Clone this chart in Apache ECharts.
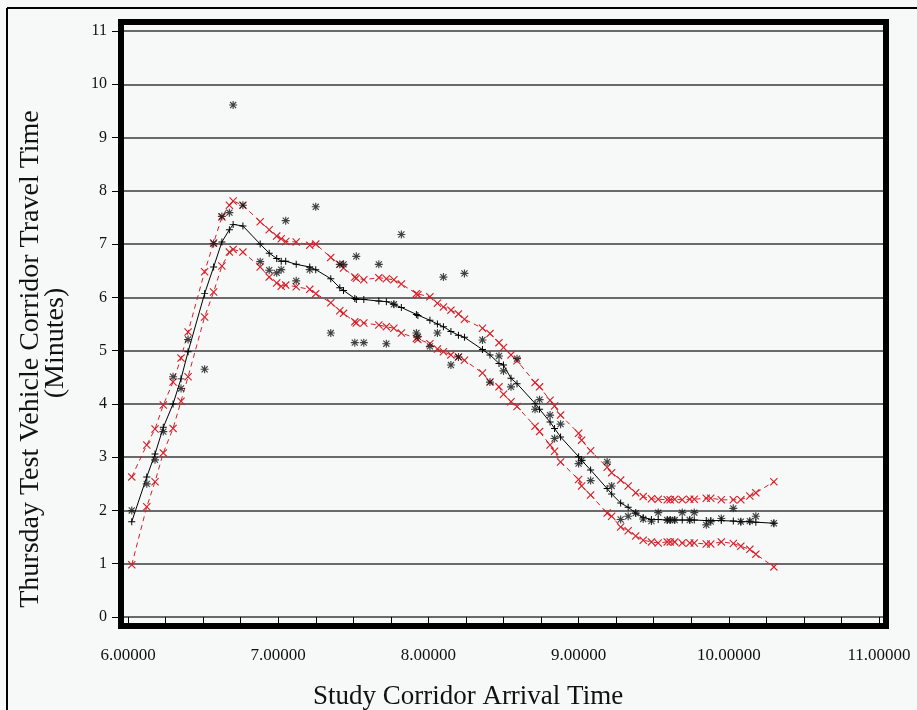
<!DOCTYPE html>
<html>
<head>
<meta charset="utf-8">
<title>Thursday Test Vehicle Corridor Travel Time</title>
<script src="https://cdn.jsdelivr.net/npm/echarts@6/dist/echarts.min.js"></script>
<style>
  html, body { margin: 0; padding: 0; background: #f6f9f7; }
  #chart { width: 917px; height: 710px; }
</style>
</head>
<body>
<div id="chart"></div>
<script>
// arrival time (hours) of each test vehicle
const times = [6.025, 6.125, 6.18, 6.235, 6.30, 6.353, 6.40, 6.51, 6.57, 6.625,
  6.675, 6.70, 6.765, 6.88, 6.94, 6.99, 7.02, 7.05, 7.12, 7.21,
  7.25, 7.35, 7.41, 7.435, 7.51, 7.52, 7.57, 7.67, 7.72, 7.77,
  7.82, 7.92, 7.93, 8.01, 8.06, 8.10, 8.15, 8.20, 8.24, 8.36,
  8.41, 8.47, 8.50, 8.55, 8.59, 8.71, 8.74, 8.81, 8.84, 8.88,
  9.00, 9.02, 9.08, 9.19, 9.22, 9.28, 9.33, 9.38, 9.43, 9.485,
  9.53, 9.59, 9.61, 9.64, 9.69, 9.74, 9.77, 9.85, 9.88, 9.95,
  10.03, 10.08, 10.14, 10.18, 10.30]

// observed travel time (*)
const observed = [2.0, 2.5, 2.95, 3.48, 4.51, 4.29, 5.21, 4.65, 7.01, 7.52,
  7.59, 9.61, 7.73, 6.67, 6.51, 6.46, 6.52, 7.44, 6.31, 6.52,
  7.70, 5.33, 6.62, 6.62, 5.15, 6.77, 5.15, 6.62, 5.13, 5.87,
  7.18, 5.33, 5.26, 5.08, 5.33, 6.38, 4.73, 4.88, 6.45, 5.20,
  4.41, 4.90, 4.62, 4.32, 4.85, 3.90, 4.08, 3.79, 3.35, 3.62,
  2.88, 2.94, 2.56, 2.91, 2.46, 1.83, 1.89, 1.95, 1.84, 1.80,
  1.96, 1.82, 1.82, 1.82, 1.96, 1.82, 1.96, 1.73, 1.79, 1.85,
  2.04, 1.79, 1.80, 1.89, 1.76]

// smoothed curve (+)
const fitted = [1.79, 2.63, 3.06, 3.56, 4.0, 4.47, 4.98, 6.07, 6.57, 7.04,
  7.27, 7.37, 7.34, 7.0, 6.83, 6.73, 6.68, 6.68, 6.62, 6.57,
  6.52, 6.35, 6.18, 6.13, 5.98, 5.96, 5.96, 5.93, 5.92, 5.87,
  5.81, 5.68, 5.66, 5.57, 5.50, 5.45, 5.36, 5.29, 5.25, 5.02,
  4.92, 4.76, 4.73, 4.48, 4.38, 4.01, 3.90, 3.66, 3.54, 3.38,
  3.01, 2.94, 2.76, 2.41, 2.31, 2.14, 2.06, 1.95, 1.87, 1.83,
  1.83, 1.82, 1.82, 1.82, 1.82, 1.82, 1.82, 1.81, 1.81, 1.81,
  1.80, 1.79, 1.79, 1.78, 1.76]

// confidence band (x)
const upper = [2.63, 3.23, 3.53, 3.98, 4.41, 4.86, 5.35, 6.48, 7.02, 7.51,
  7.73, 7.81, 7.73, 7.42, 7.27, 7.15, 7.10, 7.05, 7.04, 6.98,
  7.0, 6.75, 6.62, 6.55, 6.38, 6.36, 6.33, 6.37, 6.35, 6.33,
  6.25, 6.07, 6.05, 6.01, 5.89, 5.82, 5.76, 5.69, 5.59, 5.42,
  5.32, 5.15, 5.06, 4.92, 4.81, 4.40, 4.32, 4.07, 3.96, 3.79,
  3.45, 3.32, 3.12, 2.81, 2.71, 2.57, 2.46, 2.33, 2.26, 2.22,
  2.21, 2.20, 2.20, 2.21, 2.20, 2.21, 2.21, 2.23, 2.23, 2.20,
  2.20, 2.20, 2.27, 2.33, 2.54]

const lower = [0.98, 2.07, 2.54, 3.08, 3.54, 4.05, 4.51, 5.63, 6.10, 6.59,
  6.85, 6.90, 6.85, 6.57, 6.38, 6.27, 6.21, 6.23, 6.20, 6.15,
  6.07, 5.90, 5.75, 5.70, 5.54, 5.52, 5.52, 5.48, 5.45, 5.42,
  5.33, 5.23, 5.21, 5.13, 5.03, 4.98, 4.92, 4.88, 4.82, 4.58,
  4.41, 4.32, 4.18, 4.04, 3.95, 3.58, 3.48, 3.23, 3.11, 2.91,
  2.58, 2.46, 2.29, 1.95, 1.89, 1.69, 1.62, 1.52, 1.44, 1.41,
  1.39, 1.41, 1.41, 1.41, 1.39, 1.39, 1.39, 1.37, 1.37, 1.41,
  1.38, 1.33, 1.27, 1.18, 0.94]

// axis ticks / labels
const xTicks = [6, 6.25, 6.5, 6.75, 7, 7.25, 7.5, 7.75, 8, 8.25, 8.5, 8.75,
  9, 9.25, 9.5, 9.75, 10, 10.25, 10.5, 10.75, 11]
const xLabels = [6, 7, 8, 9, 10, 11]

const FONT = 'Liberation Serif'
const RED = '#d81e28'

// marker shapes
const PLUS = 'path://M4.3,0H5.7V4.3H10V5.7H5.7V10H4.3V5.7H0V4.3H4.3Z'
const CROSS = 'path://M0,1L1,0L5,4L9,0L10,1L6,5L10,9L9,10L5,6L1,10L0,9L4,5Z'
const STAR = 'path://M4.3,0H5.7V10H4.3Z M0,4.3H10V5.7H0Z M0.7,1.7L1.7,0.7L9.3,8.3L8.3,9.3Z M8.3,0.7L9.3,1.7L1.7,9.3L0.7,8.3Z'

const zip = (ys) => times.map((t, i) => [t, ys[i]])

const chart = echarts.init(document.getElementById('chart'))

const option = {
  backgroundColor: '#f6f9f7',
  animation: false,
  grid: { left: 124, right: 34, top: 31, bottom: 93 },
  xAxis: {
    type: 'value',
    min: 6 - 4 / 150.2,
    max: 11 + 4 / 150.2,
    offset: 12,
    axisLine: { show: false },
    axisTick: { show: true, length: 7, customValues: xTicks, lineStyle: { color: '#000', width: 1 } },
    axisLabel: {
      customValues: xLabels,
      formatter: v => v.toFixed(5),
      margin: 18,
      fontFamily: FONT, fontSize: 17, color: '#111'
    },
    splitLine: { show: false }
  },
  yAxis: {
    type: 'value',
    min: 0, max: 11, interval: 1,
    axisLine: { show: false },
    axisTick: { show: true, length: 12, lineStyle: { color: '#000', width: 1 } },
    axisLabel: { margin: 17, fontFamily: FONT, fontSize: 16, color: '#111' },
    splitLine: { show: true, lineStyle: { color: '#3a3a3a', width: 1.5 } }
  },
  graphic: [
    // thin outer border (top and left)
    { type: 'line', shape: { x1: 7, y1: 8, x2: 917, y2: 8 }, style: { stroke: '#000', lineWidth: 2 } },
    { type: 'line', shape: { x1: 7, y1: 8, x2: 7, y2: 710 }, style: { stroke: '#000', lineWidth: 2 } },
    // thick plot frame
    { type: 'rect', z: 100, shape: { x: 121, y: 22, width: 765, height: 604 },
      style: { fill: 'none', stroke: '#000', lineWidth: 6 } },
    // axis titles
    { type: 'text', x: 468, y: 697,
      style: { text: 'Study Corridor Arrival Time', font: '27px "Liberation Serif"',
        fill: '#111', align: 'center', verticalAlign: 'middle' } },
    { type: 'text', x: 31, y: 359, rotation: Math.PI / 2,
      style: { text: 'Thursday Test Vehicle Corridor Travel Time', font: '28px "Liberation Serif"',
        fill: '#111', align: 'center', verticalAlign: 'middle' } },
    { type: 'text', x: 56, y: 343, rotation: Math.PI / 2,
      style: { text: '(Minutes)', font: '28px "Liberation Serif"',
        fill: '#111', align: 'center', verticalAlign: 'middle' } }
  ],
  series: [
    {
      name: 'fit', type: 'line', data: zip(fitted),
      symbol: PLUS, symbolSize: 7, showAllSymbol: true,
      lineStyle: { color: '#000', width: 1 },
      itemStyle: { color: '#000' }, z: 3
    },
    {
      name: 'upper', type: 'line', data: zip(upper),
      symbol: CROSS, symbolSize: 8, showAllSymbol: true,
      lineStyle: { color: RED, width: 1, type: [5, 4] },
      itemStyle: { color: RED }, z: 4
    },
    {
      name: 'lower', type: 'line', data: zip(lower),
      symbol: CROSS, symbolSize: 8, showAllSymbol: true,
      lineStyle: { color: RED, width: 1, type: [5, 4] },
      itemStyle: { color: RED }, z: 4
    },
    {
      name: 'observed', type: 'scatter', data: zip(observed),
      symbol: STAR, symbolSize: 8,
      itemStyle: { color: '#111' }, z: 5
    }
  ]
}

chart.setOption(option)
</script>
</body>
</html>
